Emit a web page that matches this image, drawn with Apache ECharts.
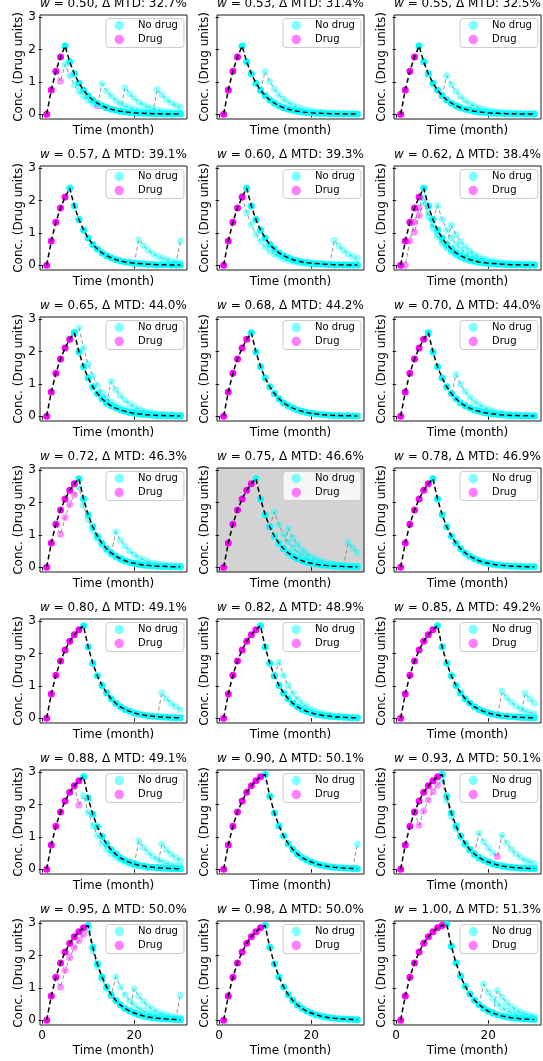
<!DOCTYPE html>
<html><head><meta charset="utf-8">
<script src="https://cdn.jsdelivr.net/npm/echarts@6/dist/echarts.min.js"></script>
<style>html,body{margin:0;padding:0;background:#fff}#c{width:543px;height:1061px}</style>
</head><body><div id="c"></div>
<script>
// ---------------- data ----------------
const months = [1,2,3,4,5,6,7,8,9,10,11,12,13,14,15,16,17,18,19,20,21,22,23,24,25,26,27,28,29,30];
const xTicks = [0, 20];
const yTicks = [0, 1, 2, 3];

// main (reference) trajectories, by number of drug months
const mainK4 = [0,0.75,1.33,1.77,2.11,1.62,1.25,0.96,0.74,0.57,0.44,0.34,0.26,0.20,0.15,0.12,0.09,0.07,0.055,0.04,0.03,0.025,0.02,0.015,0.01,0.01,0.007,0.005,0.004,0.003];
const mainK5 = [0,0.75,1.33,1.77,2.11,2.38,1.83,1.41,1.09,0.84,0.64,0.50,0.38,0.29,0.23,0.17,0.13,0.10,0.08,0.06,0.05,0.04,0.03,0.02,0.015,0.012,0.009,0.007,0.005,0.004];
const mainK6 = [0,0.75,1.33,1.77,2.11,2.38,2.58,1.99,1.53,1.18,0.91,0.70,0.54,0.41,0.32,0.25,0.19,0.15,0.11,0.09,0.07,0.05,0.04,0.03,0.02,0.018,0.014,0.011,0.008,0.006];
const mainK7 = [0,0.75,1.33,1.77,2.11,2.38,2.58,2.74,2.11,1.62,1.25,0.96,0.74,0.57,0.44,0.34,0.26,0.20,0.15,0.12,0.09,0.07,0.055,0.04,0.03,0.025,0.02,0.015,0.01,0.01];
const mainK8 = [0,0.75,1.33,1.77,2.11,2.38,2.58,2.74,2.86,2.20,1.70,1.31,1.01,0.78,0.60,0.46,0.35,0.27,0.21,0.16,0.12,0.10,0.07,0.06,0.04,0.035,0.027,0.02,0.016,0.012];
const mainK9 = [0,0.75,1.33,1.77,2.11,2.38,2.58,2.74,2.86,2.93,2.26,1.74,1.34,1.03,0.79,0.61,0.47,0.36,0.28,0.22,0.17,0.13,0.10,0.076,0.058,0.045,0.035,0.027,0.02,0.016];
const mainK10 = [0,0.75,1.33,1.77,2.11,2.38,2.58,2.74,2.86,2.93,2.97,2.29,1.77,1.36,1.05,0.81,0.62,0.48,0.37,0.28,0.22,0.17,0.13,0.10,0.077,0.059,0.046,0.035,0.027,0.021];

const panelW   = ['0.50','0.53','0.55','0.57','0.60','0.62','0.65','0.68','0.70','0.72','0.75','0.78','0.80','0.82','0.85','0.88','0.90','0.93','0.95','0.98','1.00'];
const panelMTD = ['32.7','31.4','32.5','39.1','39.3','38.4','44.0','44.2','44.0','46.3','46.6','46.9','49.1','48.9','49.2','49.1','50.1','50.1','50.0','50.0','51.3'];
const panelDrugMonths = [4,4,4,5,5,5,6,6,6,7,7,7,8,8,8,8,9,9,9,9,10];
const panelMain = [mainK4,mainK4,mainK4,mainK5,mainK5,mainK5,mainK6,mainK6,mainK6,mainK7,mainK7,mainK7,mainK8,mainK8,mainK8,mainK8,mainK9,mainK9,mainK9,mainK9,mainK10];
const highlightedPanel = 10;

// alternative trajectories: x0 = first month, v = values from x0, d = months with drug
const alts = [
  [ {x0:3, d:[4,12], v:[1.33,1.02,1.54,1.19,0.91,0.70,0.54,0.42,0.32,0.25,0.94,0.72,0.56,0.43,0.33,0.25,0.20,0.15,0.12,0.09,0.07,0.05,0.04,0.03,0.025,0.02,0.015,0.01]},
    {x0:17, d:[17], v:[0.09,0.82,0.63,0.49,0.37,0.29,0.22,0.17,0.13,0.10,0.08,0.06,0.05,0.04]},
    {x0:24, d:[24], v:[0.015,0.76,0.59,0.45,0.35,0.27,0.21]} ],
  [ {x0:9, d:[9], v:[0.74,1.32,1.02,0.78,0.60,0.46,0.36,0.28,0.21,0.16,0.13,0.10,0.07,0.06,0.04,0.035,0.027,0.02,0.016,0.012,0.009,0.007]} ],
  [ {x0:10, d:[10], v:[0.57,1.19,0.92,0.71,0.54,0.42,0.32,0.25,0.19,0.15,0.11,0.09,0.07,0.05,0.04,0.03,0.025,0.02,0.015,0.01,0.009]} ],
  [ {x0:20, d:[20], v:[0.05,0.79,0.61,0.47,0.36,0.28,0.22,0.17,0.13,0.10,0.08]},
    {x0:29, d:[29], v:[0.005,0.75]} ],
  [ {x0:5, d:[], v:[2.11,1.62,1.25,0.96,0.74,0.57,0.44,0.34,0.26,0.20,0.15,0.12,0.09,0.07,0.055,0.04,0.03,0.025,0.02,0.015,0.01,0.01,0.007,0.005,0.004,0.003]},
    {x0:24, d:[24], v:[0.02,0.77,0.59,0.46,0.35,0.27,0.21]} ],
  [ {x0:1, d:[2,3,4,5], v:[0,0,0.75,1.33,1.77,2.11,1.62,1.25,0.96,0.74,0.57,0.44,0.34,0.26,0.20,0.15,0.12,0.09,0.07,0.055,0.04,0.03,0.025,0.02,0.015,0.01,0.01,0.007,0.005,0.004]},
    {x0:3, d:[4,5], v:[1.33,1.02,1.54,1.94,1.49,1.15,0.89,0.68,0.53,0.40,0.31,0.24,0.18,0.14,0.11,0.08,0.065,0.05,0.04,0.03,0.023,0.018,0.014,0.01,0.008,0.006,0.005,0.004]},
    {x0:8, d:[8], v:[1.41,1.84,1.42,1.09,0.84,0.65,0.50,0.38,0.29,0.23,0.17,0.13,0.10,0.08,0.06,0.05,0.04,0.03,0.023,0.018,0.014,0.01,0.008]},
    {x0:11, d:[11], v:[0.64,1.24,0.95,0.73,0.57,0.44,0.34,0.26,0.20,0.15,0.12,0.09,0.07,0.05,0.04,0.03,0.025,0.02,0.015,0.01]} ],
  [ {x0:7, d:[7], v:[2.58,2.74,2.11,1.62,1.25,0.96,0.74,0.57,0.44,0.34,0.26,0.20,0.15,0.12,0.09,0.07,0.055,0.04,0.03,0.025,0.02,0.015,0.01,0.01]},
    {x0:14, d:[14], v:[0.41,1.07,0.82,0.63,0.49,0.38,0.29,0.22,0.17,0.13,0.10,0.08,0.06,0.05,0.04,0.03,0.02]} ],
  [],
  [ {x0:12, d:[12], v:[0.70,1.29,0.99,0.76,0.59,0.45,0.35,0.27,0.21,0.16,0.12,0.09,0.07,0.055,0.04,0.03,0.025,0.02,0.015]} ],
  [ {x0:3, d:[4,5,6,7], v:[1.33,1.02,1.54,1.94,2.24,2.48,1.91,1.47,1.13,0.87,0.67,0.52,0.40,0.31,0.24,0.18,0.14,0.11,0.08,0.06,0.05,0.04,0.03,0.023,0.018,0.014,0.01,0.008]},
    {x0:15, d:[15], v:[0.44,1.09,0.84,0.65,0.50,0.38,0.30,0.23,0.17,0.13,0.10,0.08,0.06,0.05,0.04,0.03]} ],
  [ {x0:11, d:[11], v:[1.25,1.71,1.32,1.01,0.78,0.60,0.46,0.36,0.27,0.21,0.16,0.13,0.10,0.08,0.06,0.045,0.035,0.027,0.02,0.016]},
    {x0:14, d:[14], v:[0.57,1.19,0.92,0.71,0.54,0.42,0.32,0.25,0.19,0.15,0.11,0.09,0.07,0.05,0.04,0.03,0.025]},
    {x0:27, d:[27], v:[0.015,0.76,0.59,0.45]} ],
  [],
  [ {x0:25, d:[25], v:[0.04,0.78,0.60,0.46,0.36,0.27]} ],
  [ {x0:12, d:[12], v:[1.31,1.72,1.32,1.02,0.78,0.60,0.46,0.36,0.27,0.21,0.16,0.13,0.10,0.07,0.06,0.04,0.035,0.027,0.02]} ],
  [ {x0:22, d:[22], v:[0.10,0.83,0.64,0.49,0.38,0.29,0.22,0.17,0.13]},
    {x0:27, d:[27], v:[0.027,0.77,0.59,0.46]} ],
  [ {x0:7, d:[8], v:[2.58,1.99,2.28,1.76,1.35,1.04,0.80,0.62,0.48,0.37,0.28,0.22,0.17,0.13,0.10,0.08,0.06,0.05,0.035,0.027,0.02,0.016,0.012,0.01]},
    {x0:20, d:[20], v:[0.16,0.87,0.67,0.52,0.40,0.31,0.24,0.18,0.14,0.11,0.08]},
    {x0:25, d:[25], v:[0.04,0.78,0.60,0.46,0.36,0.27]} ],
  [ {x0:29, d:[29], v:[0.02,0.77]} ],
  [ {x0:4, d:[5,6,7,8,9], v:[1.77,1.36,1.80,2.14,2.40,2.60,2.75,2.12,1.63,1.26,0.97,0.74,0.57,0.44,0.34,0.26,0.20,0.16,0.12,0.09,0.07,0.055,0.04,0.03,0.025,0.02,0.015]},
    {x0:17, d:[17,22], v:[0.47,1.11,0.85,0.66,0.51,0.39,1.05,0.81,0.62,0.48,0.37,0.28,0.22,0.17]} ],
  [ {x0:3, d:[4,5,6,7,8,9,15], v:[1.33,1.02,1.54,1.94,2.24,2.47,2.65,2.79,2.15,1.65,1.27,0.98,0.76,1.34,1.03,0.79,0.61,0.47,0.36,0.28,0.22,0.17,0.13,0.10,0.08,0.06,0.045,0.035]},
    {x0:19, d:[19], v:[0.28,0.97,0.75,0.58,0.44,0.34,0.26,0.20,0.16,0.12,0.09,0.07]},
    {x0:29, d:[29], v:[0.02,0.77]} ],
  [],
  [ {x0:18, d:[18], v:[0.48,1.12,0.86,0.66,0.51,0.39,0.30,0.23,0.18,0.14,0.11,0.08,0.06]},
    {x0:21, d:[21], v:[0.22,0.92,0.71,0.55,0.42,0.32,0.25,0.19,0.15,0.11]} ]
];

// ---------------- layout / style ----------------
const FONT = 'DejaVu Sans';
const FS = 12;
const LFS = 10;
const CYAN = '#00ffff', MAG = '#ff00ff';
const colLeft = [40, 217, 394];
const GW = 147, GH = 104;
const rowTop = r => 15 + r * 151;
const SYM = 7;

const grid = [], xAxis = [], yAxis = [], title = [], legend = [], series = [];

panelW.forEach((w, i) => {
  const r = Math.floor(i / 3), c = i % 3;
  const L = colLeft[c], T = rowTop(r);
  grid.push({left: L, top: T, width: GW, height: GH, show: true, borderColor: '#000', borderWidth: 0.9,
    backgroundColor: i === highlightedPanel ? '#d3d3d3' : 'transparent'});
  xAxis.push({type: 'value', gridIndex: i, min: -0.45, max: 31.45,
    axisLine: {show: false}, splitLine: {show: false},
    axisTick: {show: true, customValues: xTicks, length: 3.5, lineStyle: {color: '#000', width: 0.9}},
    axisLabel: {show: r === 6, customValues: xTicks, fontSize: FS, color: '#000', fontFamily: FONT, margin: 5},
    name: 'Time (month)', nameLocation: 'middle', nameGap: r === 6 ? 20 : 6,
    nameTextStyle: {fontSize: FS, color: '#000', fontFamily: FONT}});
  yAxis.push({type: 'value', gridIndex: i, min: -0.15, max: 3.07,
    axisLine: {show: false}, splitLine: {show: false},
    axisTick: {show: true, customValues: yTicks, length: 3.5, lineStyle: {color: '#000', width: 0.9}},
    axisLabel: {show: c === 0, customValues: yTicks, fontSize: FS, color: '#000', fontFamily: FONT, margin: 4},
    name: 'Conc. (Drug units)', nameLocation: 'middle', nameGap: c === 0 ? 15 : 6,
    nameTextStyle: {fontSize: FS, color: '#000', fontFamily: FONT}});
  title.push({text: '{i|w} = ' + w + ', Δ MTD: ' + panelMTD[i] + '%',
    left: L + GW / 2, top: T - 17, textAlign: 'center', padding: 0,
    textStyle: {fontSize: FS, fontWeight: 'normal', color: '#000', fontFamily: FONT,
      rich: {i: {fontStyle: 'italic', fontSize: FS, fontFamily: FONT, color: '#000'}}}});
  legend.push({left: L + GW - 81, top: T + 3.5, orient: 'vertical', selectedMode: false,
    backgroundColor: i === highlightedPanel ? 'rgba(255,255,255,0.8)' : '#fff',
    borderColor: '#cccccc', borderWidth: 1, borderRadius: 3, padding: [2, 6, 3, 8.5],
    itemGap: 4, itemWidth: 9.5, itemHeight: 9.5, icon: 'circle',
    textStyle: {fontSize: LFS, color: '#000', fontFamily: FONT, padding: [0, 0, 0, 9]},
    data: [{name: 'No drug', itemStyle: {color: CYAN, opacity: 0.5}},
           {name: 'Drug', itemStyle: {color: MAG, opacity: 0.5}}]});

  // alternative trajectories
  alts[i].forEach(a => {
    const pts = a.v.map((y, j) => [a.x0 + j, y]);
    series.push({type: 'line', xAxisIndex: i, yAxisIndex: i, data: pts, symbol: 'none', silent: true, z: 1,
      lineStyle: {color: 'rgba(100,100,100,0.7)', width: 1, type: [4, 2.5]}});
    series.push({type: 'scatter', name: 'alt', xAxisIndex: i, yAxisIndex: i, silent: true, z: 2, symbolSize: SYM,
      data: pts.map(p => ({value: p, itemStyle: {color: a.d.indexOf(p[0]) >= 0 ? MAG : CYAN, opacity: 0.42}}))});
  });

  // main trajectory
  const k = panelDrugMonths[i], m = panelMain[i];
  const mainPts = months.map((x, j) => [x, m[j]]);
  series.push({type: 'scatter', name: 'No drug', xAxisIndex: i, yAxisIndex: i, silent: true, z: 3, symbolSize: SYM,
    itemStyle: {color: CYAN, opacity: 1}, data: mainPts.filter(p => p[0] > k)});
  series.push({type: 'scatter', name: 'Drug', xAxisIndex: i, yAxisIndex: i, silent: true, z: 3, symbolSize: SYM,
    itemStyle: {color: MAG, opacity: 1}, data: mainPts.filter(p => p[0] <= k)});
  series.push({type: 'line', xAxisIndex: i, yAxisIndex: i, data: mainPts, symbol: 'none', silent: true, z: 4,
    lineStyle: {color: '#000', width: 1.5, type: [5, 3]}});
});

const chart = echarts.init(document.getElementById('c'), null, {renderer: 'canvas'});
chart.setOption({animation: false, backgroundColor: '#fff', textStyle: {fontFamily: FONT},
  grid, xAxis, yAxis, title, legend, series});
</script></body></html>
